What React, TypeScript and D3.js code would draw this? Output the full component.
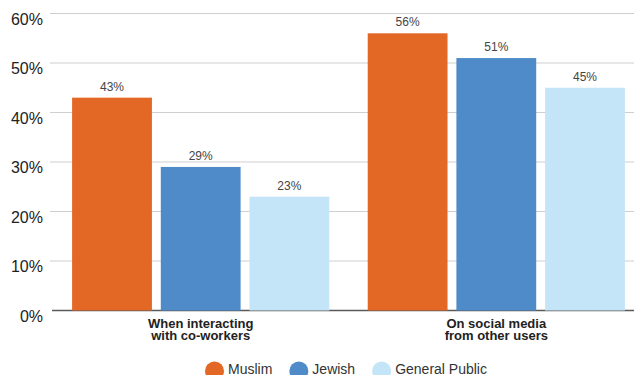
import React, { useEffect, useRef } from "react";
import * as d3 from "d3";

const categories = ["When interacting\nwith co-workers", "On social media\nfrom other users"];
const seriesNames = ["Muslim", "Jewish", "General Public"];
const muslimValues = [43, 56];
const jewishValues = [29, 51];
const generalValues = [23, 45];
const yTicks = [0, 10, 20, 30, 40, 50, 60];
const colors = ["#E36725", "#508BC9", "#C4E5F8"];

const W = 634;
const H = 375;

export default function App() {
  const ref = useRef<SVGSVGElement>(null);

  useEffect(() => {
    const svg = d3.select(ref.current);
    svg.selectAll("*").remove();
    const font = "'Liberation Sans', Arial, sans-serif";
    const series = [muslimValues, jewishValues, generalValues];

    const y = d3.scaleLinear().domain([0, 60]).range([310.5, 13.5]);
    const x0 = d3.scaleBand<string>().domain(categories).range([52, 645]).paddingInner(0.13).paddingOuter(0.068);
    const x1 = d3.scaleBand<string>().domain(seriesNames).range([0, x0.bandwidth()]).paddingInner(0.1).paddingOuter(0);

    // grid
    const grid = svg.append("g");
    yTicks.forEach((t) => {
      grid.append("line")
        .attr("x1", t === 0 ? 52 : 50).attr("x2", W)
        .attr("y1", y(t)).attr("y2", y(t))
        .attr("stroke", t === 0 ? "#5a5a5a" : "#cfcfcf")
        .attr("stroke-width", t === 0 ? 1.5 : 1);
      grid.append("text")
        .attr("x", 43).attr("y", y(t) + 11)
        .attr("text-anchor", "end")
        .attr("font-family", font).attr("font-size", 16)
        .attr("fill", "#222")
        .text(`${t}%`);
    });

    // bars
    categories.forEach((c, ci) => {
      const g = svg.append("g").attr("transform", `translate(${x0(c)},0)`);
      seriesNames.forEach((s, si) => {
        const v = series[si][ci];
        g.append("rect")
          .attr("x", x1(s)!).attr("width", x1.bandwidth())
          .attr("y", y(v)).attr("height", y(0) - y(v))
          .attr("fill", colors[si]);
        g.append("text")
          .attr("x", x1(s)! + x1.bandwidth() / 2).attr("y", y(v) - 7)
          .attr("text-anchor", "middle")
          .attr("font-family", font).attr("font-size", 12)
          .attr("fill", "#444")
          .text(`${v}%`);
      });
      const lines = c.split("\n");
      const t = svg.append("text")
        .attr("text-anchor", "middle")
        .attr("font-family", font).attr("font-size", 13).attr("font-weight", "bold")
        .attr("fill", "#222");
      lines.forEach((l, li) => {
        t.append("tspan").attr("x", x0(c)! + x0.bandwidth() / 2).attr("y", 328 + li * 11.8).text(l);
      });
    });

    // legend
    const legend = svg.append("g");
    const startX = 205;
    let cx = startX;
    seriesNames.forEach((s, si) => {
      const item = legend.append("g");
      item.append("circle").attr("cx", cx + 9.5).attr("cy", 371).attr("r", 9.5).attr("fill", colors[si]);
      const txt = item.append("text")
        .attr("x", cx + 23).attr("y", 373.5)
        .attr("font-family", font).attr("font-size", 14)
        .attr("fill", "#333")
        .text(s);
      const w = (txt.node() as SVGTextElement).getComputedTextLength();
      cx = cx + 23 + w + 17;
    });
  }, []);

  return (
    <svg ref={ref} width={W} height={H} style={{ position: "absolute", left: 0, top: 0, background: "#fff" }} />
  );
}
